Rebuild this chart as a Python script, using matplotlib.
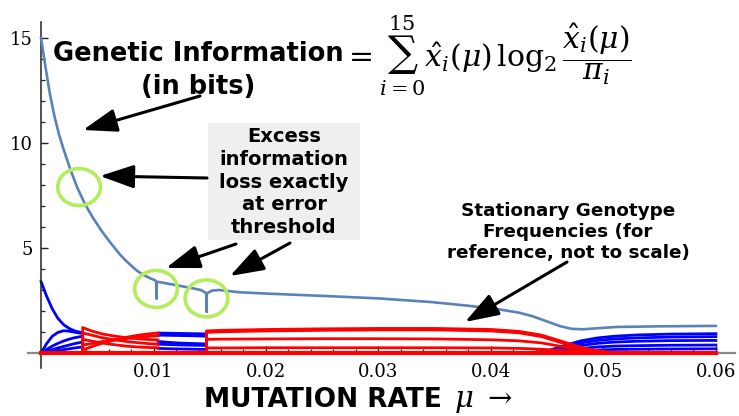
import numpy as np
import matplotlib
matplotlib.use('Agg')
import matplotlib.pyplot as plt
from matplotlib.patches import Ellipse, Rectangle, FancyArrowPatch
import matplotlib.transforms as mtransforms
from matplotlib.ticker import MultipleLocator, FixedLocator

# ---------------- data ----------------
# genetic information (bits) vs mutation rate
mu_info = [0, 0.0004, 0.0008, 0.0012, 0.0016, 0.002, 0.0026, 0.0032, 0.0039,
           0.0046, 0.0054, 0.0061, 0.007, 0.0075, 0.008, 0.0085, 0.0091, 0.0097,
           0.0101, 0.01028, 0.01028, 0.01028, 0.0105, 0.0109, 0.0124, 0.0135,
           0.0142, 0.01473, 0.01473, 0.01473, 0.0152, 0.0158, 0.0177, 0.020,
           0.025, 0.030, 0.0346, 0.038, 0.0408, 0.0425, 0.0437, 0.045, 0.0462,
           0.0472, 0.0482, 0.0495, 0.0512, 0.055, 0.06]
info_bits = [15.0, 13.6, 12.3, 11.25, 10.4, 9.7, 8.75, 7.9, 7.1,
             6.45, 5.8, 5.3, 4.7, 4.42, 4.17, 3.93, 3.72, 3.56,
             3.47, 3.38, 2.6, 3.38, 3.38, 3.34, 3.19, 3.08,
             3.0, 2.84, 1.97, 2.84, 2.97, 3.0, 2.89, 2.83,
             2.72, 2.6, 2.43, 2.25, 2.07, 1.92, 1.75, 1.5, 1.27,
             1.15, 1.13, 1.18, 1.24, 1.27, 1.29]

# stationary genotype frequencies (scaled), piecewise regimes
seg1_mu = [0, 0.0005, 0.001, 0.0015, 0.002, 0.0025, 0.003, 0.0037]
seg1_blue = [
    [3.4, 2.7, 2.1, 1.65, 1.35, 1.17, 1.05, 0.96],
    [0, 0.45, 0.8, 0.98, 1.06, 1.04, 0.99, 0.93],
    [0, 0.17, 0.33, 0.46, 0.57, 0.66, 0.73, 0.8],
    [0, 0.08, 0.16, 0.24, 0.31, 0.38, 0.45, 0.52],
    [0, 0.04, 0.08, 0.12, 0.16, 0.2, 0.24, 0.29],
    [0, 0, 0, 0, 0, 0, 0, 0],
]

seg2_mu = [0.0037, 0.0045, 0.0055, 0.0066, 0.0077, 0.0088, 0.0097, 0.0104]
seg2_red = [
    [1.21, 1.05, 0.9, 0.8, 0.72, 0.67, 0.64, 0.62],
    [0.95, 0.85, 0.72, 0.62, 0.54, 0.48, 0.44, 0.42],
    [0.65, 0.57, 0.47, 0.39, 0.32, 0.28, 0.26, 0.25],
    [0.15, 0.3, 0.48, 0.63, 0.76, 0.86, 0.92, 0.95],
    [0.38, 0.45, 0.55, 0.63, 0.7, 0.76, 0.8, 0.82],
    [0, 0, 0, 0, 0, 0, 0, 0],
]

seg3_mu = [0.0104, 0.0115, 0.0125, 0.0136, 0.0147]
seg3_blue = [
    [0.95, 0.94, 0.93, 0.92, 0.91],
    [0.85, 0.84, 0.83, 0.82, 0.8],
    [0.55, 0.5, 0.47, 0.45, 0.43],
    [0.42, 0.4, 0.38, 0.37, 0.36],
    [0.22, 0.2, 0.19, 0.18, 0.17],
    [0, 0, 0, 0, 0],
]

seg4_mu = [0.0147, 0.016, 0.02, 0.025, 0.03, 0.035, 0.04, 0.0425, 0.0445,
           0.0464, 0.0478, 0.049, 0.0505, 0.052, 0.06]
seg4_red = [
    [1.05, 1.08, 1.12, 1.15, 1.17, 1.17, 1.12, 1.03, 0.85, 0.54, 0.3, 0.15, 0.04, 0, 0],
    [0.98, 1.01, 1.05, 1.08, 1.1, 1.1, 1.05, 0.96, 0.78, 0.47, 0.24, 0.1, 0.02, 0, 0],
    [0.65, 0.66, 0.67, 0.68, 0.68, 0.67, 0.63, 0.58, 0.48, 0.3, 0.16, 0.07, 0.01, 0, 0],
    [0.24, 0.24, 0.25, 0.25, 0.25, 0.25, 0.24, 0.22, 0.18, 0.11, 0.06, 0.02, 0, 0, 0],
    [0, 0, 0, 0, 0, 0, 0, 0, 0, 0, 0, 0, 0, 0, 0],
]

seg5_mu = [0.0435, 0.045, 0.0465, 0.048, 0.0495, 0.051, 0.053, 0.056, 0.06]
seg5_blue = [
    [0, 0.1, 0.35, 0.58, 0.72, 0.8, 0.86, 0.9, 0.92],
    [0, 0.08, 0.28, 0.48, 0.6, 0.67, 0.72, 0.76, 0.78],
    [0, 0.06, 0.2, 0.36, 0.46, 0.52, 0.56, 0.59, 0.6],
    [0, 0.03, 0.12, 0.22, 0.29, 0.33, 0.35, 0.37, 0.38],
    [0, 0.01, 0.05, 0.1, 0.14, 0.17, 0.18, 0.19, 0.2],
]

x_ticks = [0.01, 0.02, 0.03, 0.04, 0.05, 0.06]
x_ticklabels = ['0.01', '0.02', '0.03', '0.04', '0.05', '0.06']
y_ticks = [5, 10, 15]
y_ticklabels = ['5', '10', '15']

# ---------------- figure ----------------
plt.rcParams['mathtext.fontset'] = 'dejavuserif'
W, H = 739, 416
fig = plt.figure(figsize=(W / 100, H / 100), dpi=100)
ax = fig.add_axes([28 / W, (H - 368) / H, (735 - 28) / W, (368 - 22) / H])
ax.set_facecolor('none')
ax.set_xlim(-0.00116, 0.0617)
ax.set_ylim(-0.714, 15.76)
px = mtransforms.Affine2D().scale(1 / W, -1 / H).translate(0, 1) + fig.transFigure

BLUE = '#0000ff'
RED = '#ff0000'
lw_f = 2.0

for vals in seg1_blue:
    ax.plot(seg1_mu, vals, color=BLUE, lw=lw_f, zorder=2)
for vals in seg2_red:
    ax.plot([seg2_mu[0]] + seg2_mu, [0] + vals, color=RED, lw=lw_f, zorder=3)
for vals in seg3_blue:
    ax.plot(seg3_mu, vals, color=BLUE, lw=lw_f, zorder=2)
for vals in seg5_blue:
    ax.plot(seg5_mu, vals, color=BLUE, lw=lw_f, zorder=2)
for vals in seg4_red:
    ax.plot([seg4_mu[0]] + seg4_mu, [0] + vals, color=RED, lw=lw_f, zorder=3)
ax.plot([0, 0.06], [0, 0], color=RED, lw=3.0, zorder=3)

ax.plot(mu_info, info_bits, color='#5a82b9', lw=1.9, zorder=5)

# circles
for cx, cy in [(0.00338, 7.9), (0.01022, 3.05), (0.01471, 2.6)]:
    ax.add_patch(Ellipse((cx, cy), 0.0038, 1.76, fill=False,
                         edgecolor='#b2ee5c', lw=2.6, zorder=6))

# axes styling
for s in ['top', 'right']:
    ax.spines[s].set_visible(False)
ax.spines['left'].set_position(('data', 0))
ax.spines['bottom'].set_position(('data', 0))
ax.spines['left'].set_color('#222222')
ax.spines['bottom'].set_color('#888888')
ax.spines['left'].set_linewidth(1.1)
ax.spines['bottom'].set_linewidth(1.6)
ax.spines['bottom'].set_zorder(1)

ax.xaxis.set_major_locator(FixedLocator(x_ticks))
ax.set_xticklabels(x_ticklabels)
ax.xaxis.set_minor_locator(MultipleLocator(0.002))
ax.yaxis.set_major_locator(FixedLocator(y_ticks))
ax.set_yticklabels(y_ticklabels)
ax.yaxis.set_minor_locator(FixedLocator([1, 2, 3, 4, 6, 7, 8, 9, 11, 12, 13, 14]))
ax.tick_params(which='major', direction='in', length=5, width=1.0, color='#222222',
               labelsize=13, pad=6)
ax.tick_params(which='minor', direction='in', length=3, width=0.9, color='#222222')
ax.tick_params(axis='x', which='major', pad=7)
for lab in ax.get_xticklabels() + ax.get_yticklabels():
    lab.set_family('DejaVu Serif')

# background box for the annotation
fig.add_artist(Rectangle((208 / W, 1 - 240 / H), 152 / W, 117 / H,
                         transform=fig.transFigure, facecolor='#efefef',
                         edgecolor='none', zorder=-1))
ax.set_zorder(1)
fig.patch.set_facecolor('white')

# texts
fig.text(198, 54, 'Genetic Information', transform=px, ha='center', va='center',
         fontsize=18.5, fontweight='bold', family='DejaVu Sans', zorder=4)
fig.text(198, 87, '(in bits)', transform=px, ha='center', va='center',
         fontsize=18.5, fontweight='bold', family='DejaVu Sans', zorder=4)
fig.text(343, 56,
         r'$=\sum_{i=0}^{15}\hat{x}_i(\mu)\,\log_2\dfrac{\hat{x}_i(\mu)}{\pi_i}$',
         transform=px, ha='left', va='center', fontsize=21.5, zorder=4)

fig.text(284, 182, 'Excess\ninformation\nloss exactly\nat error\nthreshold',
         transform=px, ha='center', va='center', fontsize=14, fontweight='bold',
         linespacing=1.25, family='DejaVu Sans', zorder=4)
fig.text(568, 232, 'Stationary Genotype\nFrequencies (for\nreference, not to scale)',
         transform=px, ha='center', va='center', fontsize=13.2, fontweight='bold',
         linespacing=1.2, family='DejaVu Sans', zorder=4)
fig.text(323, 400, 'MUTATION RATE', transform=px,
         ha='center', va='center', fontsize=19, fontweight='bold', family='DejaVu Sans')
fig.text(454, 401, r'$\mu\ \rightarrow$', transform=px,
         ha='left', va='center', fontsize=21)

# arrows (pixel coords)
arrows = [((200, 96), (83, 130)), ((207, 178), (100, 176)),
          ((236, 244), (166, 268)), ((290, 243), (230, 276)),
          ((567, 262), (465, 322))]
for (tx, ty), (hx, hy) in arrows:
    fig.add_artist(FancyArrowPatch(
        (tx / W, 1 - ty / H), (hx / W, 1 - hy / H), transform=fig.transFigure,
        arrowstyle='-|>,head_length=1.6,head_width=0.55', mutation_scale=13,
        lw=2.2, color='black', shrinkA=0, shrinkB=0, zorder=10))

fig.savefig('out.png', dpi=100)
